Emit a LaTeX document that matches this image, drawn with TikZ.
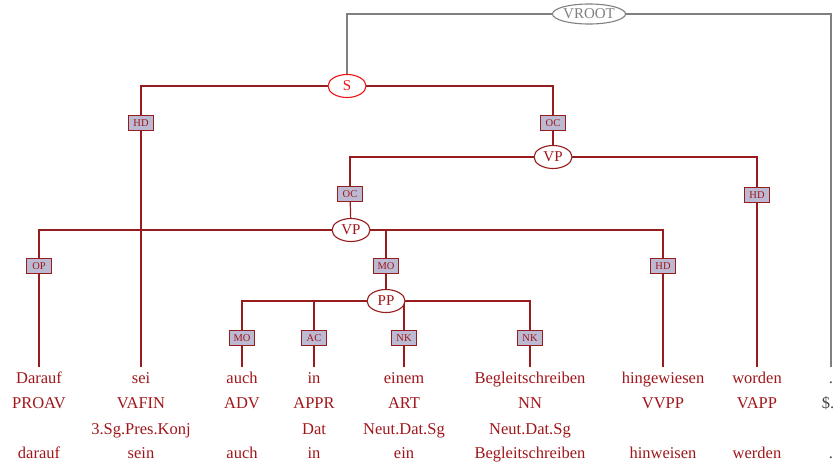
\documentclass[tikz,border=0pt]{standalone}
\usepackage{fontspec}
\setmainfont{Liberation Serif}
\usetikzlibrary{shapes.geometric,backgrounds}
\definecolor{dred}{RGB}{160,22,26}
\definecolor{lred}{RGB}{150,28,30}
\definecolor{lblfill}{RGB}{188,186,210}
\definecolor{brred}{RGB}{240,20,20}
\definecolor{vgray}{RGB}{128,128,128}
\definecolor{dgray}{RGB}{70,70,70}
\tikzset{
  cat/.style={ellipse,draw=lred,fill=white,line width=1.1pt,text=dred,inner sep=0pt,minimum width=38pt,minimum height=23pt,font=\fontsize{15}{15}\selectfont},
  edgelbl/.style={rectangle,draw=lred,fill=lblfill,line width=1pt,text=dred,inner sep=0pt,minimum width=25pt,minimum height=15pt,font=\fontsize{10.5}{10.5}\selectfont},
  edge/.style={draw=lred,line width=1.2pt},
  word/.style={anchor=base,inner sep=3pt,text height=13pt,text depth=4pt,text=dred,font=\fontsize{16.5}{16.5}\selectfont},
  info/.style={anchor=base,inner sep=0pt,text=dred,font=\fontsize{16.5}{16.5}\selectfont},
}
\begin{document}
\begin{tikzpicture}[x=1pt,y=-1pt]
\useasboundingbox (0,0) rectangle (837,463);
% words
\node[word] (w1) at (39,383) {Darauf};
\node[word] (w2) at (141,383) {sei};
\node[word] (w3) at (242,383) {auch};
\node[word] (w4) at (314,383) {in};
\node[word] (w5) at (404,383) {einem};
\node[word] (w6) at (530,383) {Begleitschreiben};
\node[word] (w7) at (663,383) {hingewiesen};
\node[word] (w8) at (757,383) {worden};
\node[word,text=dgray] (w9) at (831,383) {.};
% tags
\node[info] (t1) at (39,408) {PROAV};
\node[info] (t2) at (141,408) {VAFIN};
\node[info] (t3) at (242,408) {ADV};
\node[info] (t4) at (314,408) {APPR};
\node[info] (t5) at (404,408) {ART};
\node[info] (t6) at (530,408) {NN};
\node[info] (t7) at (663,408) {VVPP};
\node[info] (t8) at (757,408) {VAPP};
\node[info,text=dgray] (t9) at (828,408) {\$.};
% morphology
\node[info] (m2) at (141,434) {3.Sg.Pres.Konj};
\node[info] (m4) at (314,434) {Dat};
\node[info] (m5) at (404,434) {Neut.Dat.Sg};
\node[info] (m6) at (530,434) {Neut.Dat.Sg};
% lemmas
\node[info] (l1) at (39,458) {darauf};
\node[info] (l2) at (141,458) {sein};
\node[info] (l3) at (242,458) {auch};
\node[info] (l4) at (314,458) {in};
\node[info] (l5) at (404,458) {ein};
\node[info] (l6) at (530,458) {Begleitschreiben};
\node[info] (l7) at (663,458) {hinweisen};
\node[info] (l8) at (757,458) {werden};
\node[info,text=dgray] (l9) at (831,458) {.};
% phrase nodes
\node[cat,draw=vgray,text=vgray,minimum width=64pt,minimum height=20pt] (root) at (589,14) {VROOT};
\node[cat,draw=brred,text=brred] (s) at (347,86) {S};
\node[cat] (vp1) at (553,157) {VP};
\node[cat] (vp2) at (351,230) {VP};
\node[cat] (pp) at (386,301) {PP};
% edge labels
\node[edgelbl] (e1) at (141,123) {HD};
\node[edgelbl] (e2) at (553,123) {OC};
\node[edgelbl] (e3) at (350,194) {OC};
\node[edgelbl] (e4) at (757,195) {HD};
\node[edgelbl] (e5) at (39,266) {OP};
\node[edgelbl] (e6) at (386,266) {MO};
\node[edgelbl] (e7) at (663,266) {HD};
\node[edgelbl] (e8) at (242,338) {MO};
\node[edgelbl] (e9) at (314,338) {AC};
\node[edgelbl] (e10) at (404,338) {NK};
\node[edgelbl] (e11) at (530,338) {NK};
% connectors
\begin{scope}[on background layer]
\draw[vgray,line width=1.2pt] (root.center) -| (s.center);
\draw[vgray,line width=1.2pt] (root.center) -| (w9.north);
\draw[edge] (s.center) -| (e1.center);
\draw[edge] (e1.center) -- (w2.north);
\draw[edge] (s.center) -| (e2.center);
\draw[edge] (e2.center) -- (vp1.center);
\draw[edge] (vp1.center) -| (e3.center);
\draw[edge] (e3.center) -- (vp2.center);
\draw[edge] (vp1.center) -| (e4.center);
\draw[edge] (e4.center) -- (w8.north);
\draw[edge] (vp2.center) -| (e5.center);
\draw[edge] (e5.center) -- (w1.north);
\draw[edge] (vp2.center) -| (e6.center);
\draw[edge] (e6.center) -- (pp.center);
\draw[edge] (vp2.center) -| (e7.center);
\draw[edge] (e7.center) -- (w7.north);
\draw[edge] (pp.center) -| (e8.center);
\draw[edge] (e8.center) -- (w3.north);
\draw[edge] (pp.center) -| (e9.center);
\draw[edge] (e9.center) -- (w4.north);
\draw[edge] (pp.center) -| (e10.center);
\draw[edge] (e10.center) -- (w5.north);
\draw[edge] (pp.center) -| (e11.center);
\draw[edge] (e11.center) -- (w6.north);
\end{scope}
\end{tikzpicture}
\end{document}
